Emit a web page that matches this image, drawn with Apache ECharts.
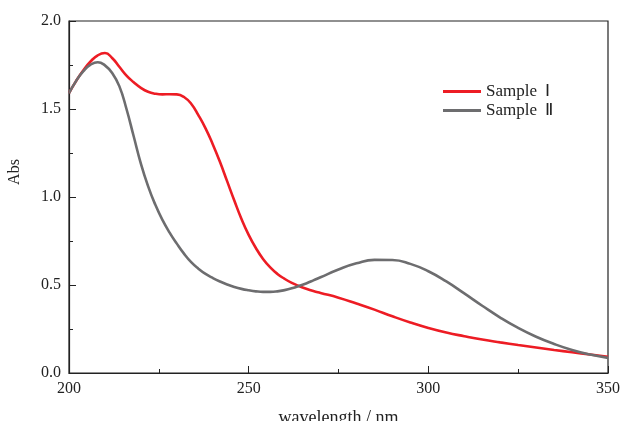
<!DOCTYPE html>
<html>
<head>
<meta charset="utf-8">
<script src="https://cdn.jsdelivr.net/npm/echarts@6/dist/echarts.min.js"></script>
<style>
  html, body { margin: 0; padding: 0; background: #fff; }
  #main { width: 622px; height: 421px; }
</style>
</head>
<body>
<div id="main"></div>
<script>
// wavelength (nm) and absorbance readings
const wlOne = [200, 202, 204, 206, 208, 210, 212, 214, 216, 218, 220, 222, 224, 226, 228, 230, 232, 234, 236, 238, 240, 242, 244, 246, 248, 250, 252, 254, 256, 258, 260, 262, 264, 266, 268, 270, 275, 280, 285, 290, 295, 300, 305, 310, 315, 320, 325, 330, 335, 340, 345, 350];
const absOne = [1.59, 1.66, 1.72, 1.77, 1.805, 1.818, 1.79, 1.74, 1.69, 1.652, 1.62, 1.598, 1.587, 1.583, 1.584, 1.583, 1.568, 1.53, 1.465, 1.39, 1.3, 1.2, 1.09, 0.98, 0.875, 0.785, 0.71, 0.648, 0.6, 0.563, 0.535, 0.512, 0.494, 0.479, 0.466, 0.455, 0.428, 0.395, 0.36, 0.322, 0.287, 0.256, 0.23, 0.209, 0.19, 0.174, 0.159, 0.145, 0.131, 0.118, 0.105, 0.092];

const wlTwo = [200, 202, 204, 206, 208, 210, 212, 214, 216, 218, 220, 222, 224, 226, 228, 230, 232, 234, 236, 238, 240, 242, 244, 246, 248, 250, 252, 254, 256, 258, 260, 262, 264, 266, 268, 270, 275, 280, 285, 290, 295, 300, 305, 310, 315, 320, 325, 330, 335, 340, 345, 350];
const absTwo = [1.59, 1.66, 1.715, 1.752, 1.766, 1.748, 1.705, 1.63, 1.5, 1.345, 1.19, 1.062, 0.957, 0.87, 0.798, 0.735, 0.678, 0.63, 0.593, 0.563, 0.54, 0.52, 0.503, 0.489, 0.478, 0.47, 0.464, 0.461, 0.461, 0.464, 0.471, 0.481, 0.494, 0.509, 0.526, 0.544, 0.588, 0.623, 0.643, 0.642, 0.62, 0.578, 0.52, 0.452, 0.382, 0.315, 0.256, 0.206, 0.165, 0.131, 0.105, 0.086];

const seriesNames = ['Sample Ⅰ', 'Sample Ⅱ'];

const pairs = (xs, ys) => xs.map((x, i) => [x, ys[i]]);

let myChart = echarts.init(document.getElementById('main'));
let font = '"Liberation Serif", "Times New Roman", serif';
let ink = '#222';
let option = {
  animation: false,
  textStyle: { fontFamily: font },
  grid: {
    left: 69,
    right: 14,
    top: 21,
    bottom: 48,
    outerBoundsMode: 'none',
    containLabel: false,
    show: true,
    borderColor: ink,
    borderWidth: 1.2
  },
  legend: {
    orient: 'vertical',
    left: 438,
    top: 78,
    itemWidth: 38,
    itemHeight: 3,
    itemGap: 2,
    icon: 'rect',
    textStyle: { fontFamily: font, fontSize: 17, color: ink },
    formatter: name => name.replace(' ', '  '),
    data: seriesNames
  },
  xAxis: {
    type: 'value',
    min: 200,
    max: 350,
    interval: 50,
    name: 'wavelength / nm',
    nameLocation: 'middle',
    nameGap: 36,
    nameTextStyle: { fontFamily: font, fontSize: 18, color: ink },
    axisLine: { lineStyle: { color: ink, width: 1.2 } },
    axisTick: { inside: true, length: 7, lineStyle: { color: ink } },
    minorTick: { show: true, splitNumber: 2, length: 4, lineStyle: { color: ink } },
    axisLabel: { fontFamily: font, fontSize: 16, color: ink, margin: 8 },
    splitLine: { show: false }
  },
  yAxis: {
    type: 'value',
    min: 0,
    max: 2,
    interval: 0.5,
    name: 'Abs',
    nameLocation: 'middle',
    nameGap: 46,
    nameTextStyle: { fontFamily: font, fontSize: 16, color: ink, padding: [0, 0, 0, 50] },
    axisLine: { show: true, lineStyle: { color: ink, width: 1.2 } },
    axisTick: { show: true, inside: true, length: 7, lineStyle: { color: ink } },
    minorTick: { show: true, splitNumber: 2, length: 4, lineStyle: { color: ink } },
    axisLabel: {
      fontFamily: font, fontSize: 16, color: ink, margin: 8,
      formatter: v => v.toFixed(1)
    },
    splitLine: { show: false }
  },
  series: [
    {
      name: seriesNames[0],
      type: 'line',
      smooth: 0.5,
      symbol: 'none',
      data: pairs(wlOne, absOne),
      lineStyle: { color: '#ed1c24', width: 2.6 },
      itemStyle: { color: '#ed1c24' }
    },
    {
      name: seriesNames[1],
      type: 'line',
      smooth: 0.5,
      symbol: 'none',
      data: pairs(wlTwo, absTwo),
      lineStyle: { color: '#6d6d6f', width: 2.6 },
      itemStyle: { color: '#6d6d6f' }
    }
  ]
};
myChart.setOption(option);
</script>
</body>
</html>
